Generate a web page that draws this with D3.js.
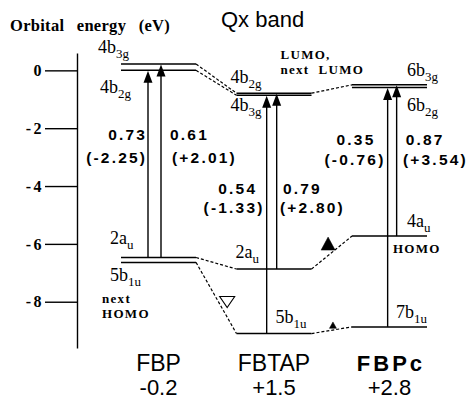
<!DOCTYPE html>
<html>
<head>
<meta charset="utf-8">
<script src="https://cdn.jsdelivr.net/npm/d3@7"></script>
<style>
  body { margin: 0; background: #fff; }
  .serif { font-family: "Liberation Serif", "Times New Roman", serif; }
  .sans { font-family: "Liberation Sans", Arial, sans-serif; }
</style>
</head>
<body>
<script>
// molecules along x, with their shift values
const molecules = ["FBP", "FBTAP", "FBPc"];
const moleculeShift = ["-0.2", "+1.5", "+2.8"];
const yTicks = [0, -2, -4, -6, -8];

// orbital levels, energies in eV
const levelMol = [0, 0, 0, 0, 1, 1, 1, 1, 2, 2, 2, 2];
const levelName = ["4b", "4b", "2a", "5b", "4b", "4b", "2a", "5b", "6b", "6b", "4a", "7b"];
const levelSub = ["3g", "2g", "u", "1u", "2g", "3g", "u", "1u", "3g", "2g", "u", "1u"];
const levelEnergy = [0.22, 0.0, -6.47, -6.64, -0.79, -0.86, -6.87, -9.10, -0.50, -0.59, -5.73, -8.87];

// Qx transitions: from level -> to level
const transFrom = [2, 2, 7, 6, 11, 10];
const transTo = [1, 0, 5, 4, 9, 8];
const transStrength = ["0.73", "0.61", "0.54", "0.79", "0.35", "0.87"];
const transValue = ["(-2.25)", "(+2.01)", "(-1.33)", "(+2.80)", "(-0.76)", "(+3.54)"];

// dashed correlation lines between levels
const linkFrom = [0, 1, 2, 3, 4, 6, 7];
const linkTo = [4, 5, 6, 7, 8, 10, 11];

// triangle markers: gap index, energy, kind
const markerGap = [0, 1, 1];
const markerEnergy = [-8.01, -5.99, -8.81];
const markerKind = ["open", "filled", "small"];

// small notes
const notes = [
  {lines: ["next", "HOMO"], level: 3, dx: -19, dy: [41, 56]},
  {lines: ["LUMO,", "next  LUMO"], level: 4, dx: 44, dy: [-34, -19]},
  {lines: ["HOMO"], level: 10, dx: 41, dy: [17]}
];

// layout (pixels)
const W = 470, H = 400;
const labelDx = [-23, -21, -11, -11, -6, -6, -1, 39, 55, 55, 55, 44];
const labelDy = [-11, 23, -13, 19, -10, 16, -11, -11, -9, 24, -9, -9];
const arrowDx = [27, 40, 30.2, 40.2, 35.7, 44.7];
// per transition: anchor, dx line1, dx line2, y line1, y line2
const transText = [
  ["end", -3, -3, 140, 163],
  ["start", 9, 11, 140, 163],
  ["middle", -30, -33.7, 194, 213],
  ["start", 6.3, 3.3, 194, 213],
  ["middle", -32.7, -33.7, 145, 165],
  ["start", 9, 6.3, 145, 165]
];
const markerFrac = [0.77, 0.41, 0.53];

const svg = d3.select("body").append("svg")
  .attr("width", W).attr("height", H);

const x = d3.scaleBand().domain(molecules).range([121, 427]).paddingInner(0.35);
const y = d3.scaleLinear().domain([0.6, -9.6]).range([53, 348]);

// axis
const axis = d3.axisLeft(y).tickValues(yTicks).tickSizeInner(32).tickSizeOuter(0).tickPadding(1)
  .tickFormat(d => d === 0 ? "0" : "-" + Math.abs(d));
const ax = svg.append("g").attr("transform", "translate(77,0)").call(axis);
ax.select(".domain").attr("stroke", "#000").attr("stroke-width", 1.4);
ax.selectAll(".tick line").attr("stroke", "#000").attr("stroke-width", 1.4);
ax.selectAll(".tick text")
  .style("font-family", '"Liberation Serif", "Times New Roman", serif')
  .style("font-weight", "bold").style("font-size", "16px")
  .style("letter-spacing", "2.5px").attr("fill", "#000");

svg.append("text").attr("class", "serif")
  .attr("x", 10).attr("y", 31)
  .style("font-weight", "bold").style("font-size", "16.5px")
  .style("word-spacing", "8px").style("letter-spacing", "0.3px")
  .text("Orbital energy (eV)");

svg.append("text").attr("class", "sans")
  .attr("x", 221).attr("y", 27)
  .style("font-size", "22px")
  .text("Qx band");

const lx0 = i => x(molecules[levelMol[i]]);
const lx1 = i => x(molecules[levelMol[i]]) + x.bandwidth();
const ly = i => y(levelEnergy[i]);

// dashed correlation lines
svg.append("g").selectAll("line").data(linkFrom).join("line")
  .attr("x1", d => lx1(d)).attr("y1", d => ly(d))
  .attr("x2", (d, k) => lx0(linkTo[k])).attr("y2", (d, k) => ly(linkTo[k]))
  .attr("stroke", "#000").attr("stroke-width", 1.2)
  .attr("stroke-dasharray", "3,2");

// levels
svg.append("g").selectAll("line").data(levelEnergy).join("line")
  .attr("x1", (d, i) => lx0(i)).attr("x2", (d, i) => lx1(i))
  .attr("y1", (d, i) => ly(i)).attr("y2", (d, i) => ly(i))
  .attr("stroke", "#000").attr("stroke-width", 1.5);

// level labels
const lab = svg.append("g").selectAll("text").data(levelName).join("text")
  .attr("class", "serif")
  .attr("x", (d, i) => lx0(i) + labelDx[i])
  .attr("y", (d, i) => ly(i) + labelDy[i])
  .style("font-size", "18px");
lab.append("tspan").text(d => d);
lab.append("tspan").attr("dy", 5).style("font-size", "13px")
  .text((d, i) => levelSub[i]);

// transitions
const tr = svg.append("g").selectAll("g").data(transFrom).join("g");
const ax0 = k => lx0(transFrom[k]) + arrowDx[k];
tr.append("line")
  .attr("x1", (d, k) => ax0(k)).attr("x2", (d, k) => ax0(k))
  .attr("y1", d => ly(d)).attr("y2", (d, k) => ly(transTo[k]) + 10)
  .attr("stroke", "#000").attr("stroke-width", 1.4);
tr.append("path")
  .attr("d", (d, k) => {
    const cx = ax0(k), ty = ly(transTo[k]) + 0.5;
    return `M${cx},${ty}L${cx - 4.5},${ty + 12}L${cx + 4.5},${ty + 12}Z`;
  })
  .attr("fill", "#000");

const ls = 2.2;
function anchorShift(a) { return a === "end" ? ls : a === "middle" ? ls / 2 : 0; }
[transStrength, transValue].forEach((arr, j) => {
  tr.append("text").attr("class", "sans")
    .attr("text-anchor", (d, k) => transText[k][0])
    .attr("x", (d, k) => ax0(k) + transText[k][1 + j] + anchorShift(transText[k][0]))
    .attr("y", (d, k) => transText[k][3 + j])
    .style("font-weight", "bold").style("font-size", "15.5px")
    .style("letter-spacing", ls + "px")
    .text((d, k) => arr[k]);
});

// triangles
svg.append("g").selectAll("path").data(markerKind).join("path")
  .attr("d", (d, k) => {
    const g0 = x(molecules[markerGap[k]]) + x.bandwidth();
    const g1 = x(molecules[markerGap[k] + 1]);
    const cx = g0 + (g1 - g0) * markerFrac[k];
    const cy = y(markerEnergy[k]);
    if (d === "open") {
      return `M${cx - 7.5},${cy - 5.5}L${cx + 7.5},${cy - 5.5}L${cx},${cy + 5.5}Z`;
    }
    const w = d === "filled" ? 7 : 3.5, h = d === "filled" ? 6.5 : 3.2;
    return `M${cx},${cy - h}L${cx + w},${cy + h}L${cx - w},${cy + h}Z`;
  })
  .attr("fill", d => d === "open" ? "none" : "#000")
  .attr("stroke", "#000").attr("stroke-width", d => d === "open" ? 1.1 : 0.5);

// notes
notes.forEach(n => {
  n.lines.forEach((t, j) => {
    svg.append("text").attr("class", "serif")
      .attr("x", lx0(n.level) + n.dx)
      .attr("y", ly(n.level) + n.dy[j])
      .style("font-weight", "bold").style("font-size", "13px")
      .style("letter-spacing", "1.3px")
      .style("white-space", "pre")
      .text(t);
  });
});

// molecule names and shifts
const mg = svg.append("g").selectAll("g").data(molecules).join("g");
mg.append("text").attr("class", "sans")
  .attr("text-anchor", "middle")
  .attr("x", d => x(d) + x.bandwidth() / 2 + (d === "FBPc" ? 1.5 : 0))
  .attr("y", 371)
  .style("font-size", d => d === "FBPc" ? "22px" : "23px")
  .style("font-weight", d => d === "FBPc" ? "bold" : "normal")
  .style("letter-spacing", d => d === "FBPc" ? "3px" : "0px")
  .text(d => d);
mg.append("text").attr("class", "sans")
  .attr("text-anchor", "middle")
  .attr("x", d => x(d) + x.bandwidth() / 2)
  .attr("y", 395)
  .style("font-size", "22px")
  .text((d, i) => moleculeShift[i]);
</script>
</body>
</html>
